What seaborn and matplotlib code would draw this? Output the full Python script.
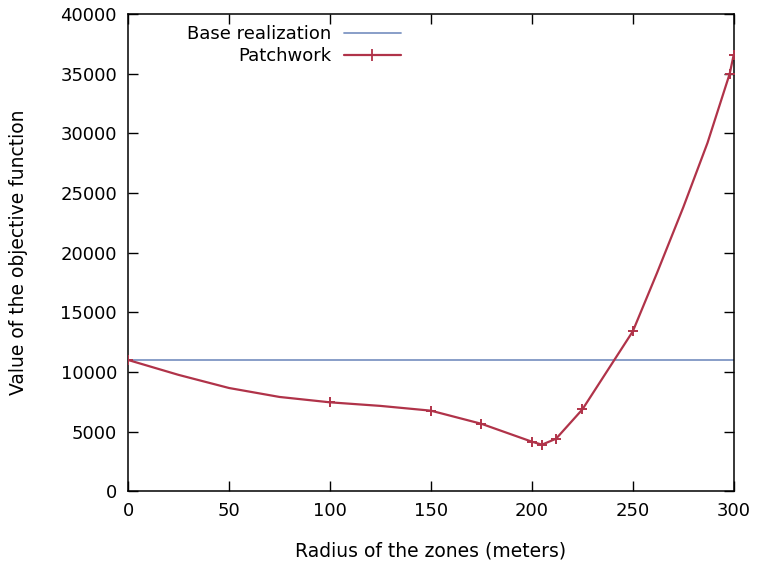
import numpy as np
import pandas as pd
import seaborn as sns
import matplotlib
matplotlib.use('Agg')
import matplotlib.pyplot as plt
from matplotlib.lines import Line2D

# %% data
# marked points of the Patchwork series
radius = [0, 100, 150, 175, 200, 205, 212, 225, 250, 298, 300]
patchwork = [11000, 7450, 6750, 5650, 4150, 3900, 4400, 6850, 13400, 35000, 36600]

# points read along the drawn (smoothed) Patchwork curve
curve_radius = [0, 25, 50, 75, 100, 125, 150, 175, 200, 205, 212, 225, 250, 262, 275, 287,
                298, 300]
curve_value = [11000, 9750, 8650, 7900, 7450, 7150, 6750, 5650, 4150, 3900, 4400, 6850,
               13400, 18300, 23800, 29200, 35000, 36600]

base_x = [0, 300]
base_y = [11000, 11000]

xticks = [0, 50, 100, 150, 200, 250, 300]
yticks = [0, 5000, 10000, 15000, 20000, 25000, 30000, 35000, 40000]

df_patch = pd.DataFrame({'radius': radius, 'value': patchwork})
df_curve = pd.DataFrame({'radius': curve_radius, 'value': curve_value})
df_base = pd.DataFrame({'radius': base_x, 'value': base_y})

blue = '#7f96c4'
red = '#b03349'

# %% plot
sns.set_style('ticks')
plt.rcParams['font.family'] = ['DejaVu Sans']

fig = plt.figure(figsize=(7.58, 5.62), dpi=100)
ax = fig.add_axes([0.169, 0.126, 0.799, 0.849])

sns.lineplot(x='radius', y='value', data=df_base, ax=ax,
             color=blue, linewidth=1.3)
sns.lineplot(x='radius', y='value', data=df_curve, ax=ax,
             color=red, linewidth=1.6)
sns.scatterplot(x='radius', y='value', data=df_patch, ax=ax,
                color=red, marker='+', s=55, linewidth=1.4, zorder=3)

ax.set_xlim(0, 300)
ax.set_ylim(0, 40000)
ax.set_xticks(xticks)
ax.set_yticks(yticks)
ax.tick_params(direction='in', length=7, width=1, top=True, right=True,
               labelsize=13, colors='black', pad=8)
for s in ax.spines.values():
    s.set_linewidth(1.1)
    s.set_color('black')

ax.set_xlabel('Radius of the zones (meters)', fontsize=13.5, labelpad=15, color='black')
ax.set_ylabel('Value of the objective function', fontsize=13.5, labelpad=23, color='black')

handles = [Line2D([], [], color=blue, linewidth=1.3),
           Line2D([], [], color=red, linewidth=1.6, marker='+', markersize=8,
                  markeredgewidth=1.3)]
ax.legend(handles, ['Base realization', 'Patchwork'],
          loc='upper right', bbox_to_anchor=(0.466, 0.996), frameon=False,
          markerfirst=False, fontsize=13, handlelength=3.2,
          labelspacing=0.22, handletextpad=0.7, borderpad=0,
          labelcolor='black')

plt.savefig('out.png', dpi=100)
